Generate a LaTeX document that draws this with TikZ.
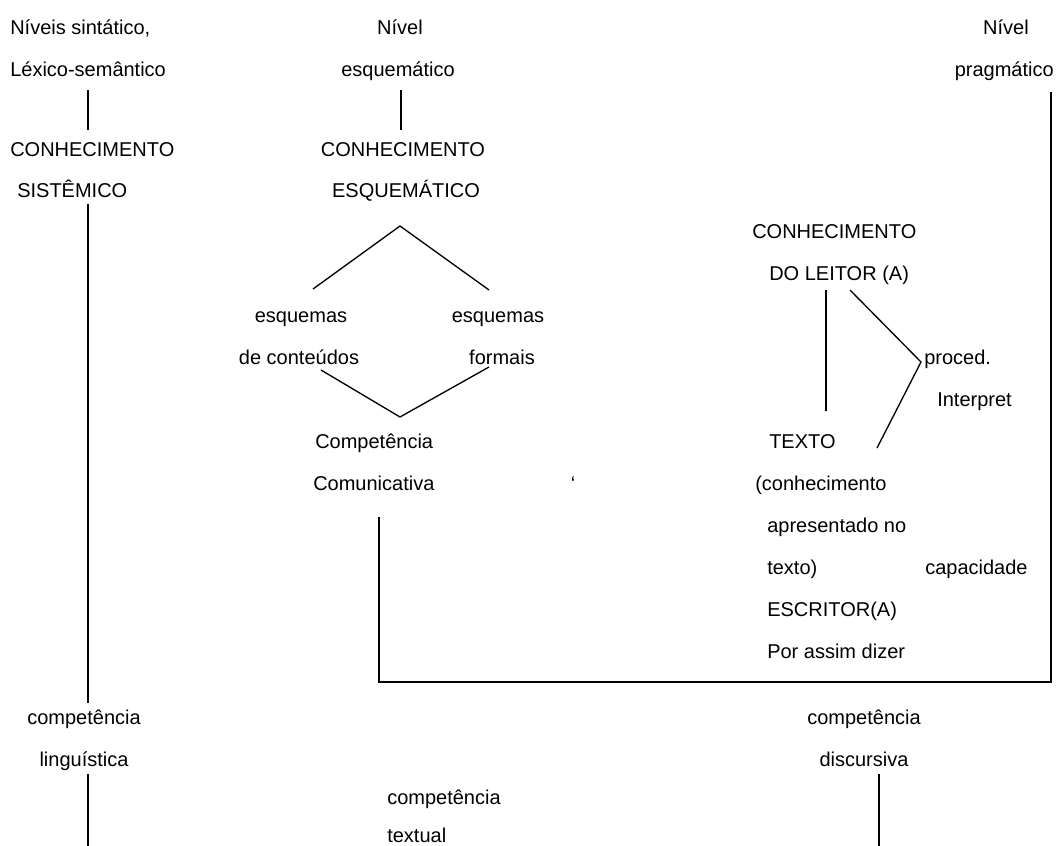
\documentclass[tikz,border=0pt]{standalone}
\usepackage{fontspec}
\setmainfont{Liberation Sans}
\usepackage{tikz}

\begin{document}
\begin{tikzpicture}[x=0.75pt, y=-0.75pt,
    lbl/.style={font=\fontsize{15}{17}\selectfont, inner sep=0pt, anchor=base},
    lblw/.style={lbl, anchor=base west},
    lble/.style={lbl, anchor=base east},
    link/.style={black, line width=1pt}]
  \useasboundingbox (0,0) rectangle (1057,846);

  % Left column: systemic knowledge
  \node[lblw] (nivsin) at (10,34) {Níveis sintático,};
  \node[lblw] (lexsem) at (10,76) {Léxico-semântico};
  \node[lblw] (conhsis) at (10,156) {CONHECIMENTO};
  \node[lblw] (sistem) at (17,197) {SISTÊMICO};
  \node[lbl] (complin) at (84,724) {competência};
  \node[lbl] (linguist) at (84,766) {linguística};
  \coordinate (lA) at (88,90);
  \coordinate (lB) at (88,130);
  \coordinate (lC) at (88,204);
  \coordinate (lD) at (88,703);
  \coordinate (lE) at (88,774);
  \coordinate (lF) at (88,846);
  \draw[link] (lA) -- (lB);
  \draw[link] (lC) -- (lD);
  \draw[link] (lE) -- (lF);

  % Middle column: schematic knowledge
  \node[lbl] (nivesq) at (400,34) {Nível};
  \node[lbl] (esquem) at (398,76) {esquemático};
  \node[lbl] (conhesq) at (403,156) {CONHECIMENTO};
  \node[lbl] (esqmat) at (406,197) {ESQUEMÁTICO};
  \node[lbl] (esqcont) at (301,322) {esquemas};
  \node[lbl] (decont) at (299,364) {de conteúdos};
  \node[lbl] (esqform) at (498,322) {esquemas};
  \node[lbl] (formais) at (502,364) {formais};
  \node[lblw] (compcom) at (315,448) {Competência};
  \node[lblw] (comunic) at (313,490) {Comunicativa};
  \node[lbl] (aspa) at (573,490) {‘};
  \coordinate (mA) at (401,90);
  \coordinate (mB) at (401,130);
  \coordinate (topL) at (313,289);
  \coordinate (topM) at (400,226);
  \coordinate (topR) at (489,290);
  \coordinate (botL) at (321,370);
  \coordinate (botM) at (400,417);
  \coordinate (botR) at (489,367);
  \draw[link] (mA) -- (mB);
  \draw[link] (topL) -- (topM) -- (topR);
  \draw[link] (botL) -- (botM) -- (botR);

  % Right column: reader / text / writer
  \node[lbl] (nivprag) at (1006,34) {Nível};
  \node[lble] (pragmat) at (1054,76) {pragmático};
  \node[lblw] (conhlei) at (752,238) {CONHECIMENTO};
  \node[lblw] (leitor) at (769,280) {DO LEITOR (A)};
  \node[lblw] (proced) at (924,364) {proced.};
  \node[lblw] (interp) at (937,406) {Interpret};
  \node[lblw] (texto) at (769,448) {TEXTO};
  \node[lblw] (conhap) at (755,490) {(conhecimento};
  \node[lblw] (apres) at (767,532) {apresentado no};
  \node[lblw] (textofim) at (767,574) {texto)};
  \node[lblw] (capac) at (925,574) {capacidade};
  \node[lblw] (escritor) at (767,616) {ESCRITOR(A)};
  \node[lblw] (porassim) at (767,658) {Por assim dizer};
  \coordinate (rA) at (826,290);
  \coordinate (rB) at (826,411);
  \coordinate (rC) at (850,290);
  \coordinate (rD) at (921,362);
  \coordinate (rE) at (877,448);
  \draw[link] (rA) -- (rB);
  \draw[link] (rC) -- (rD) -- (rE);

  % Frame joining communicative competence and pragmatic level
  \coordinate (fA) at (379,517);
  \coordinate (fB) at (379,682);
  \coordinate (fC) at (1051,682);
  \coordinate (fD) at (1051,92);
  \draw[link, line width=1.2pt] (fA) -- (fB) -- (fC) -- (fD);

  % Bottom row
  \node[lbl] (compdis) at (864,724) {competência};
  \node[lbl] (discurs) at (864,766) {discursiva};
  \node[lblw] (comptex) at (387,804) {competência};
  \node[lblw] (textual) at (387,842) {textual};
  \coordinate (bA) at (879,774);
  \coordinate (bB) at (879,846);
  \draw[link] (bA) -- (bB);
\end{tikzpicture}
\end{document}
